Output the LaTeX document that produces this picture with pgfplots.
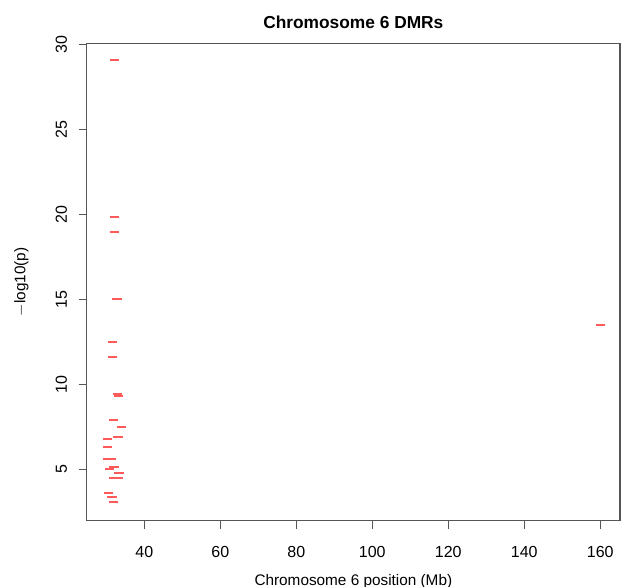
\documentclass[border=0pt]{standalone}
\usepackage{pgfplots}
\pgfplotsset{compat=1.18}
\usepackage{fontspec}
\setmainfont{Liberation Sans}
\usetikzlibrary{plotmarks}
\definecolor{dmr}{RGB}{255,90,90}
\definecolor{framegray}{RGB}{85,85,85}
\begin{document}
\begin{tikzpicture}
\begin{axis}[
  width=400pt, height=358pt, scale only axis,
  xmin=24.85, xmax=165.2, ymin=1.97, ymax=30.08,
  xtick={40,60,...,160}, ytick={5,10,...,30},
  xtick pos=left, ytick pos=left,
  tick align=outside, major tick length=6pt,
  axis line style={framegray, line width=0.8pt},
  tick style={framegray, line width=0.8pt},
  /pgf/number format/assume math mode=true,
  ticklabel style={font=\fontsize{12}{14}\selectfont},
  xticklabel style={yshift=-9.5pt},
  yticklabel style={rotate=90, anchor=south, yshift=5.3pt},
  title={\textbf{Chromosome 6 DMRs}},
  title style={font=\fontsize{13}{15}\selectfont, at={(axis description cs:0.5,1.028)}, anchor=center},
  xlabel={Chromosome 6 position (Mb)},
  xlabel style={font=\fontsize{11.5}{13}\selectfont, at={(axis description cs:0.5,-0.127)}, anchor=center},
  ylabel={$-$log10(p)},
  ylabel style={font=\fontsize{11.5}{13}\selectfont, at={(axis description cs:-0.1225,0.5)}, anchor=center},
]
\addplot[only marks, mark=-, mark size=3.5pt, dmr, mark options={line width=1.5pt}] coordinates {
  (32.1,29.12) (32.2,19.84) (32.2,18.97) (32.85,15.01) (31.6,12.51) (31.6,11.63)
  (33.0,9.42) (33.3,9.30) (31.9,7.92) (34.0,7.47) (33.05,6.90) (30.3,6.78)
  (30.25,6.33) (30.3,5.61) (31.4,5.61) (32.05,5.14) (30.9,4.98) (33.35,4.80)
  (31.9,4.47) (33.1,4.47) (30.6,3.62) (31.5,3.33) (31.9,3.06) (160.05,13.50)
};
\coordinate (bbsw) at (axis description cs:-0.1626,-0.1389);
\coordinate (bbne) at (axis description cs:1.0094,1.0907);
\end{axis}
\pgfresetboundingbox
\path (bbsw) rectangle (bbne);
\end{tikzpicture}
\end{document}
